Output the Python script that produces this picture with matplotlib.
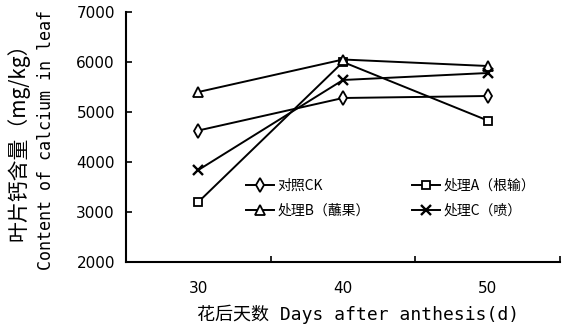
import matplotlib
matplotlib.use("Agg")
import matplotlib.pyplot as plt
from matplotlib.ticker import FixedLocator, NullFormatter

plt.rcParams['font.family'] = ['DejaVu Sans', 'Noto Sans CJK SC']

# Sampling days after anthesis
days = ['30', '40', '50']

# Leaf calcium content (mg/kg) per treatment
ck = [4630, 5280, 5320]
trt_a = [3200, 6000, 4830]
trt_b = [5400, 6050, 5920]
trt_c = [3840, 5640, 5780]

labels = ['对照CK', '处理A（根输）', '处理B（蘸果）', '处理C（喷）']

fig = plt.figure(figsize=(5.63, 3.32), dpi=100)
ax = fig.add_axes([126 / 563, 70 / 332, 434 / 563, 250 / 332])

x = list(range(1, len(days) + 1))
style = dict(color='black', lw=1.4, mfc='white', mec='black', mew=1.3)
h_ck, = ax.plot(x, ck, marker='d', ms=7, label=labels[0], **style)
h_a, = ax.plot(x, trt_a, marker='s', ms=5.5, label=labels[1], **style)
h_b, = ax.plot(x, trt_b, marker='^', ms=6.5, label=labels[2], **style)
h_c, = ax.plot(x, trt_c, marker='x', ms=7, label=labels[3], **{**style, 'mew': 1.7})

ax.set_xlim(0.5, 3.5)
ax.set_ylim(2000, 7000)
ax.set_yticks(range(2000, 7001, 1000))

# category labels centred, tick marks on category boundaries
ax.set_xticks(x)
ax.set_xticklabels(days)
ax.xaxis.set_minor_locator(FixedLocator([0.5, 1.5, 2.5, 3.5]))
ax.xaxis.set_minor_formatter(NullFormatter())
ax.tick_params(axis='x', which='major', length=0, pad=14, labelsize=11)
ax.tick_params(axis='x', which='minor', direction='in', length=4, width=1.2)
ax.tick_params(axis='y', direction='in', length=4, width=1.2, pad=8, labelsize=11)

for side in ('top', 'right'):
    ax.spines[side].set_visible(False)
for side in ('left', 'bottom'):
    ax.spines[side].set_linewidth(1.5)

mono = ['DejaVu Sans Mono', 'Noto Sans CJK SC']
ax.set_xlabel('花后天数 Days after anthesis(d)', family=mono, fontsize=13)
ax.xaxis.set_label_coords(0.535, -0.17)

fig.text(18 / 563, 1 - 137 / 332, '叶片钙含量（mg/kg）', rotation=90,
         ha='center', va='center', family=['Noto Sans CJK SC'], fontsize=15)
fig.text(46 / 563, 1 - 140 / 332, 'Content of calcium in leaf', rotation=90,
         ha='center', va='center', family=mono, fontsize=12)

# two legend columns: CK / B on the left, A / C on the right
ax.legend([h_ck, h_b, h_a, h_c], [labels[0], labels[2], labels[1], labels[3]],
          ncol=2, loc='upper left', bbox_to_anchor=(0.26, 0.36),
          frameon=False, handlelength=2.0, handletextpad=0.3,
          columnspacing=3.0, labelspacing=0.8, borderpad=0,
          prop={'family': ['Noto Sans CJK SC', 'DejaVu Sans'], 'size': 10})

fig.savefig('out.png', dpi=100)
